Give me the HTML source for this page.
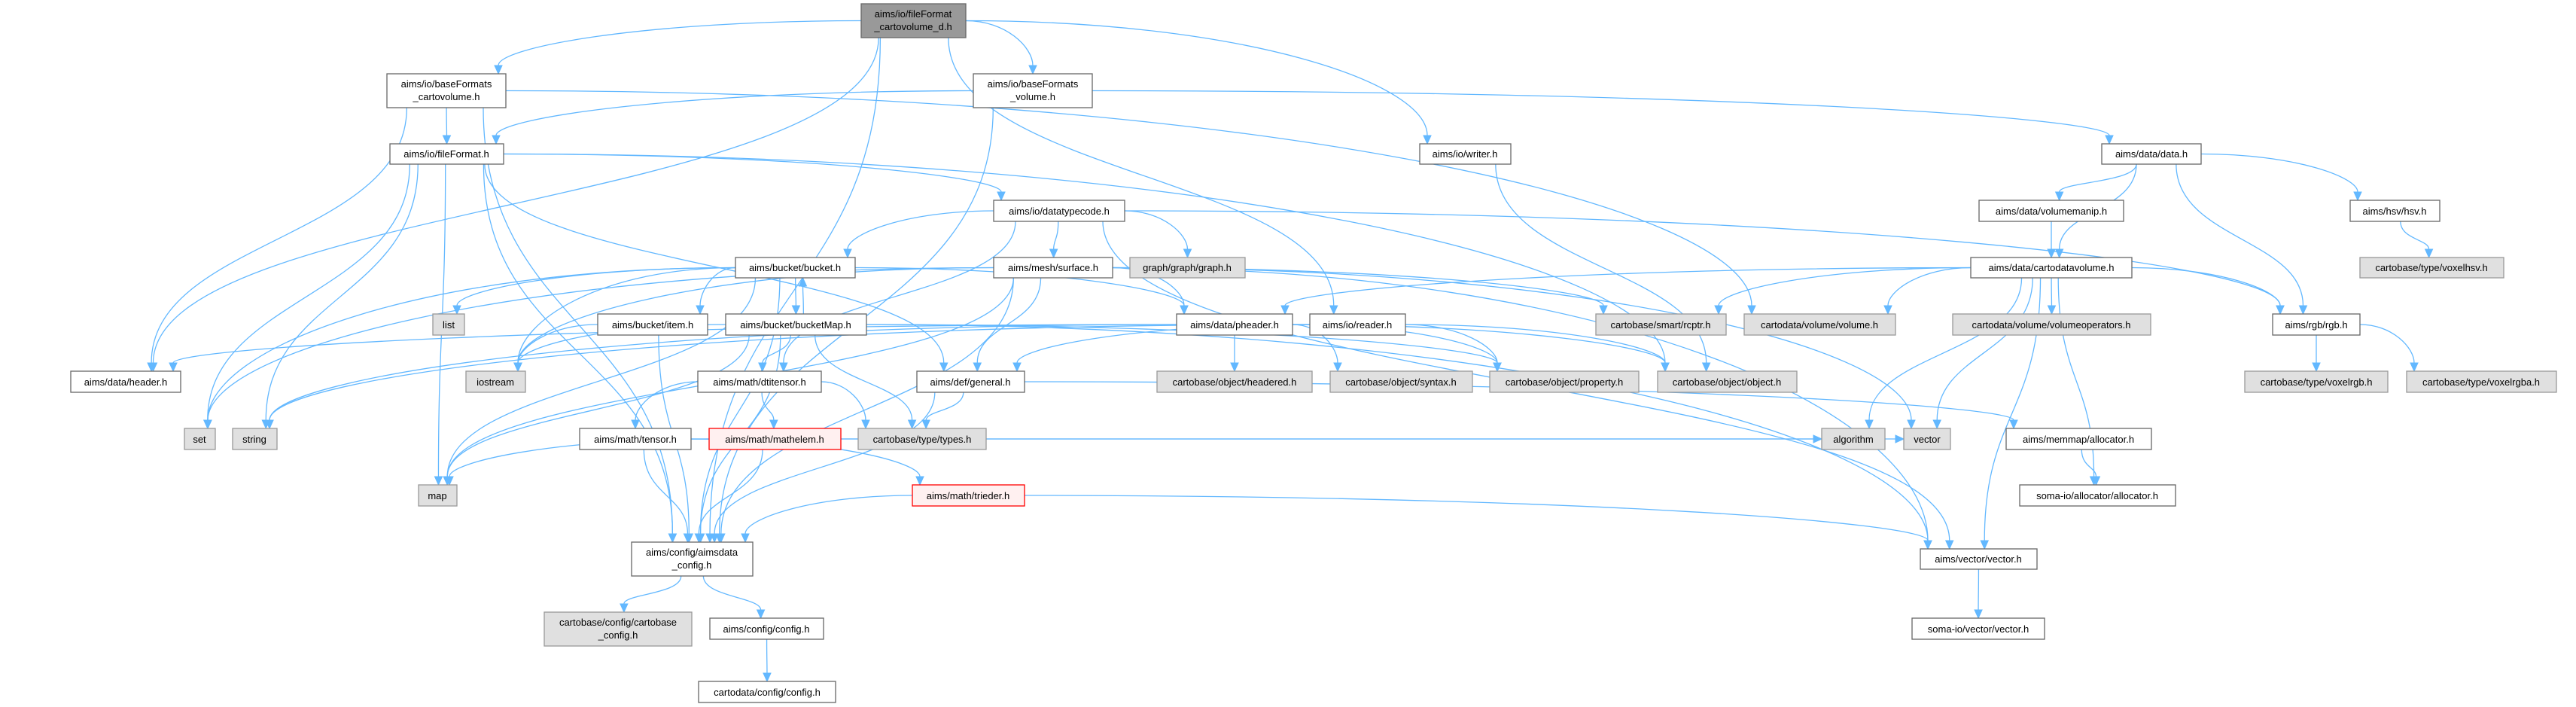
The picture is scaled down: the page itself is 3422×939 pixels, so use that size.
<!DOCTYPE html>
<html><head><meta charset="utf-8"><style>
html,body{margin:0;padding:0;background:#fff}
svg{display:block}
text{font-family:"Liberation Sans",sans-serif;font-size:13px;fill:#000;text-anchor:middle}
.w{fill:#fff;stroke:#666;stroke-width:1.3}
.g{fill:#e0e0e0;stroke:#999;stroke-width:1.3}
.r{fill:#fff0f0;stroke:#f00;stroke-width:1.3}
.k{fill:#999;stroke:#666;stroke-width:1.3}
</style></head><body>
<svg id="s" width="3422" height="939" viewBox="0 0 3422 939" xmlns="http://www.w3.org/2000/svg">
<g id="edges" fill="none" stroke="#63b8ff" stroke-width="1.3"></g>
<g id="heads" fill="#63b8ff" stroke="#63b8ff"></g>
<g id="nodes">
<rect id="root" class="k" x="1144" y="5" width="139" height="45"/><text x="1213" y="23">aims/io/fileFormat</text><text x="1213" y="40">_cartovolume_d.h</text>
<rect id="bfc" class="w" x="514" y="98" width="158" height="45"/><text x="593" y="116">aims/io/baseFormats</text><text x="593" y="133">_cartovolume.h</text>
<rect id="bfv" class="w" x="1293" y="98" width="158" height="45"/><text x="1372" y="116">aims/io/baseFormats</text><text x="1372" y="133">_volume.h</text>
<rect id="ff" class="w" x="518" y="191" width="151" height="27"/><text x="593" y="209">aims/io/fileFormat.h</text>
<rect id="writer" class="w" x="1886" y="191" width="121" height="27"/><text x="1946" y="209">aims/io/writer.h</text>
<rect id="data" class="w" x="2792" y="191" width="132" height="27"/><text x="2858" y="209">aims/data/data.h</text>
<rect id="dtc" class="w" x="1320" y="266" width="174" height="28"/><text x="1407" y="285">aims/io/datatypecode.h</text>
<rect id="vmanip" class="w" x="2629" y="266" width="192" height="28"/><text x="2725" y="285">aims/data/volumemanip.h</text>
<rect id="hsv" class="w" x="3122" y="266" width="119" height="28"/><text x="3181" y="285">aims/hsv/hsv.h</text>
<rect id="bucket" class="w" x="977" y="342" width="159" height="27"/><text x="1056" y="360">aims/bucket/bucket.h</text>
<rect id="surface" class="w" x="1320" y="342" width="158" height="27"/><text x="1399" y="360">aims/mesh/surface.h</text>
<rect id="graph" class="g" x="1501" y="342" width="153" height="27"/><text x="1577" y="360">graph/graph/graph.h</text>
<rect id="cdv" class="w" x="2618" y="342" width="214" height="27"/><text x="2725" y="360">aims/data/cartodatavolume.h</text>
<rect id="voxelhsv" class="g" x="3135" y="342" width="191" height="27"/><text x="3230" y="360">cartobase/type/voxelhsv.h</text>
<rect id="list" class="g" x="575" y="417" width="42" height="28"/><text x="596" y="436">list</text>
<rect id="item" class="w" x="794" y="417" width="146" height="28"/><text x="867" y="436">aims/bucket/item.h</text>
<rect id="bmap" class="w" x="964" y="417" width="187" height="28"/><text x="1057" y="436">aims/bucket/bucketMap.h</text>
<rect id="pheader" class="w" x="1563" y="417" width="154" height="28"/><text x="1640" y="436">aims/data/pheader.h</text>
<rect id="reader" class="w" x="1740" y="417" width="127" height="28"/><text x="1803" y="436">aims/io/reader.h</text>
<rect id="rcptr" class="g" x="2120" y="417" width="173" height="28"/><text x="2206" y="436">cartobase/smart/rcptr.h</text>
<rect id="volume" class="g" x="2317" y="417" width="201" height="28"/><text x="2417" y="436">cartodata/volume/volume.h</text>
<rect id="volops" class="g" x="2594" y="417" width="263" height="28"/><text x="2725" y="436">cartodata/volume/volumeoperators.h</text>
<rect id="rgb" class="w" x="3019" y="417" width="116" height="28"/><text x="3077" y="436">aims/rgb/rgb.h</text>
<rect id="header" class="w" x="94" y="493" width="146" height="28"/><text x="167" y="512">aims/data/header.h</text>
<rect id="iostream" class="g" x="619" y="493" width="79" height="28"/><text x="658" y="512">iostream</text>
<rect id="dti" class="w" x="927" y="493" width="164" height="28"/><text x="1009" y="512">aims/math/dtitensor.h</text>
<rect id="general" class="w" x="1218" y="493" width="143" height="28"/><text x="1289" y="512">aims/def/general.h</text>
<rect id="headered" class="g" x="1537" y="493" width="206" height="28"/><text x="1640" y="512">cartobase/object/headered.h</text>
<rect id="syntax" class="g" x="1767" y="493" width="189" height="28"/><text x="1861" y="512">cartobase/object/syntax.h</text>
<rect id="property" class="g" x="1979" y="493" width="198" height="28"/><text x="2078" y="512">cartobase/object/property.h</text>
<rect id="object" class="g" x="2202" y="493" width="185" height="28"/><text x="2294" y="512">cartobase/object/object.h</text>
<rect id="voxelrgb" class="g" x="2982" y="493" width="190" height="28"/><text x="3077" y="512">cartobase/type/voxelrgb.h</text>
<rect id="voxelrgba" class="g" x="3197" y="493" width="199" height="28"/><text x="3296" y="512">cartobase/type/voxelrgba.h</text>
<rect id="set" class="g" x="245" y="569" width="41" height="28"/><text x="265" y="588">set</text>
<rect id="string" class="g" x="309" y="569" width="59" height="28"/><text x="338" y="588">string</text>
<rect id="tensor" class="w" x="770" y="569" width="148" height="28"/><text x="844" y="588">aims/math/tensor.h</text>
<rect id="mathelem" class="r" x="942" y="569" width="175" height="28"/><text x="1029" y="588">aims/math/mathelem.h</text>
<rect id="types" class="g" x="1140" y="569" width="170" height="28"/><text x="1225" y="588">cartobase/type/types.h</text>
<rect id="algorithm" class="g" x="2420" y="569" width="84" height="28"/><text x="2462" y="588">algorithm</text>
<rect id="vector" class="g" x="2529" y="569" width="62" height="28"/><text x="2560" y="588">vector</text>
<rect id="memalloc" class="w" x="2665" y="569" width="193" height="28"/><text x="2761" y="588">aims/memmap/allocator.h</text>
<rect id="map" class="g" x="556" y="644" width="51" height="28"/><text x="581" y="663">map</text>
<rect id="trieder" class="r" x="1212" y="644" width="149" height="28"/><text x="1286" y="663">aims/math/trieder.h</text>
<rect id="somaalloc" class="w" x="2683" y="644" width="207" height="28"/><text x="2786" y="663">soma-io/allocator/allocator.h</text>
<rect id="aconf" class="w" x="839" y="720" width="161" height="45"/><text x="919" y="738">aims/config/aimsdata</text><text x="919" y="755">_config.h</text>
<rect id="vech" class="w" x="2551" y="729" width="155" height="27"/><text x="2628" y="747">aims/vector/vector.h</text>
<rect id="cbconf" class="g" x="723" y="813" width="196" height="45"/><text x="821" y="831">cartobase/config/cartobase</text><text x="821" y="848">_config.h</text>
<rect id="config" class="w" x="943" y="821" width="151" height="28"/><text x="1018" y="840">aims/config/config.h</text>
<rect id="somavec" class="w" x="2540" y="821" width="176" height="28"/><text x="2628" y="840">soma-io/vector/vector.h</text>
<rect id="cdconf" class="w" x="928" y="905" width="182" height="28"/><text x="1019" y="924">cartodata/config/config.h</text>
</g>
</svg>
<script>
(function(){
var E={
root:["bfc","bfv","writer","reader","header","aconf"],
bfc:["ff","header","aconf","volume"],
bfv:["ff","data","aconf"],
ff:["dtc","general","object","map","aconf","set","string"],
dtc:["bucket","surface","graph","dti","rgb","vech"],
bucket:["item","bmap","list","iostream","map","pheader","aconf","set"],
bmap:["bucket","dti","types","iostream","map","aconf","property","vech"],
surface:["pheader","iostream","set","map","general","aconf","rcptr","vech","vector"],
item:["iostream","aconf"],
pheader:["header","headered","syntax","property","object","string"],
reader:["general","object","property","string"],
general:["types","aconf","memalloc"],
dti:["tensor","mathelem","types"],
tensor:["aconf","trieder","algorithm"],
mathelem:["aconf","map","vector"],
trieder:["aconf","vech"],
cdv:["volops","rgb","pheader","rcptr","volume","algorithm","somaalloc","vech","vector"],
data:["vmanip","cdv","hsv","rgb"],
vmanip:["cdv"],hsv:["voxelhsv"],rgb:["voxelrgb","voxelrgba"],memalloc:["somaalloc"],
vech:["somavec"],aconf:["cbconf","config"],config:["cdconf"],writer:["object"]};
function box(id){var r=document.getElementById(id);var x=+r.getAttribute("x"),y=+r.getAttribute("y"),w=+r.getAttribute("width"),h=+r.getAttribute("height");return {x1:x,y1:y,x2:x+w,y2:y+h,cx:x+w/2,cy:y+h/2,w:w,h:h};}
var eg=document.getElementById("edges"),hg=document.getElementById("heads"),NS="http://www.w3.org/2000/svg";
function cl(v,a,b){return Math.max(a,Math.min(b,v));}
for(var s in E){E[s].forEach(function(t){
 var a=box(s),b=box(t),p0,c1,c2,p3,dx=b.cx-a.cx;
 if(b.y1>=a.y2+8){
  var dy=b.y1-a.y2;
  if(Math.abs(dx)>3*dy){p0=[dx>0?a.x2:a.x1,a.cy];p3=[cl(a.cx,b.x1+10,b.x2-10),b.y1];
   if(Math.abs(p3[0]-p0[0])<40)p3[0]=b.cx;
   c1=[p0[0]+(p3[0]-p0[0])*0.6,p0[1]];c2=[p3[0],p3[1]-(p3[1]-p0[1])*0.5];}
  else{p0=[a.cx+cl(dx*0.15,-a.w/3,a.w/3),a.y2];p3=[b.cx-cl(dx*0.08,-b.w/4,b.w/4),b.y1];
   c1=[p0[0],p0[1]+dy*0.5];c2=[p3[0],p3[1]-dy*0.5];}
 }else if(a.y1>=b.y2+8){
  var dy2=a.y1-b.y2;p0=[a.cx+cl(dx*0.15,-a.w/3,a.w/3)+10,a.y1];p3=[b.cx+10,b.y2];
  c1=[p0[0],p0[1]-dy2*0.5];c2=[p3[0],p3[1]+dy2*0.5];
 }else{p0=[dx>0?a.x2:a.x1,a.cy];p3=[dx>0?b.x1:b.x2,b.cy];c1=[(p0[0]+p3[0])/2,p0[1]];c2=[(p0[0]+p3[0])/2,p3[1]];}
 var ux=p3[0]-c2[0],uy=p3[1]-c2[1],L=Math.hypot(ux,uy);if(L<1){ux=p3[0]-p0[0];uy=p3[1]-p0[1];L=Math.hypot(ux,uy);}ux/=L;uy/=L;
 var al=11,aw=5,bx=p3[0]-ux*al,by=p3[1]-uy*al;
 var c2x=c2[0],c2y=c2[1];
 var path=document.createElementNS(NS,"path");
 path.setAttribute("d","M"+p0+" C"+c1+" "+[c2x,c2y]+" "+[bx,by]);eg.appendChild(path);
 var pg=document.createElementNS(NS,"polygon");
 pg.setAttribute("points",[p3[0],p3[1]]+" "+[bx-uy*aw,by+ux*aw]+" "+[bx+uy*aw,by-ux*aw]);hg.appendChild(pg);
});}
})();
</script>
</body></html>
